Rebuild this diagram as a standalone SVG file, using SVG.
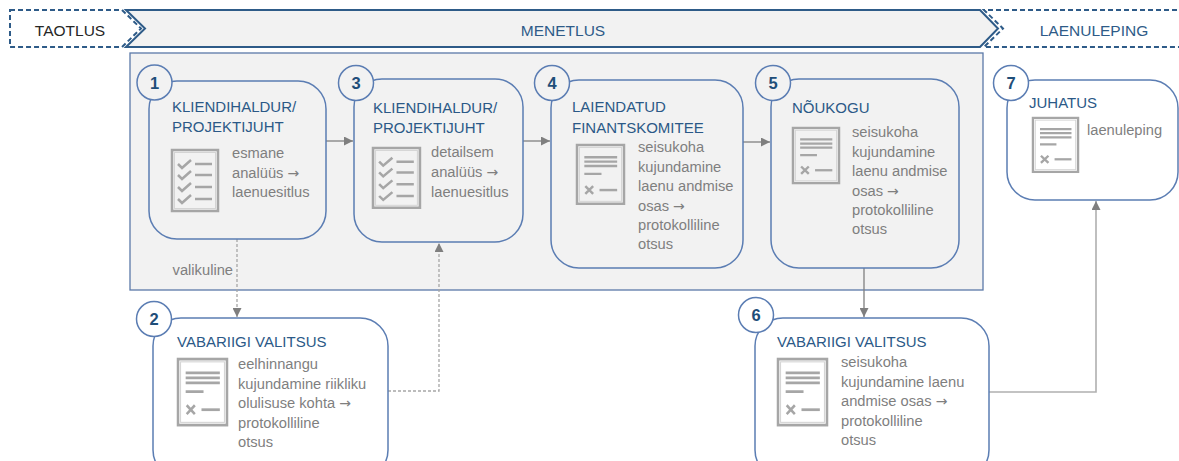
<svg xmlns="http://www.w3.org/2000/svg" xmlns:xlink="http://www.w3.org/1999/xlink" width="1179" height="461" viewBox="0 0 1179 461">
<style>
.hdr{fill:none;stroke:#2e5b88;stroke-width:2}
.dash{stroke-dasharray:5 3}
.htxt{font-family:"Liberation Sans",Arial,sans-serif;font-size:15.5px;text-anchor:middle}
.node{fill:none;stroke:#5b7db3;stroke-width:1.5}
.num{font-family:"Liberation Sans",Arial,sans-serif;font-size:16.5px;font-weight:bold;fill:#1f4e79;text-anchor:middle}
.title{font-family:"Liberation Sans",Arial,sans-serif;font-size:15px;fill:#2b5987}
.body{font-family:"Liberation Sans",Arial,sans-serif;font-size:14.7px;fill:#7f7f7f}
.ar{font-family:"DejaVu Sans",sans-serif;font-size:14px}
.ic{fill:none;stroke:#a6a6a6;stroke-width:2.5}
.icin{fill:none;stroke:#d4d4d4;stroke-width:1}
.conn{fill:none;stroke:#7f7f7f;stroke-width:1.3}
.dot{fill:none;stroke:#a6a6a6;stroke-width:1.3;stroke-dasharray:3 2}
.light{fill:none;stroke:#b0b0b0;stroke-width:1.6}
</style>
<defs>
<marker id="arr" markerUnits="userSpaceOnUse" markerWidth="9" markerHeight="9" refX="9" refY="4.5" orient="auto">
<path d="M0,0 L9,4.5 L0,9 Z" fill="#7f7f7f"/>
</marker>
<g id="doc">
<rect x="1" y="1" width="48" height="60" class="ic"/>
<rect x="3.5" y="3.5" width="43" height="55" class="icin"/>
<path d="M8.5,13.5 H42 M8.5,18 H42 M8.5,22.5 H42 M8.5,30.5 H26" class="ic" stroke-width="2.2"/>
<path d="M9.5,43 L17.5,51 M17.5,43 L9.5,51" class="ic" stroke-width="2.2"/>
<path d="M24,47 H42" class="ic" stroke-width="2.2"/>
</g>
<g id="check">
<rect x="1" y="1" width="46" height="61" class="ic"/>
<rect x="3.5" y="3.5" width="41" height="56" class="icin"/>
<path d="M7,15 L11,19 L20,11 M7,26 L11,30 L20,22 M7,38 L11,42 L20,34 M7,50 L11,54 L20,46" class="ic" stroke-width="2"/>
<path d="M24,15 H41 M24,26 H41 M24,38 H41 M24,50 H41" class="ic" stroke-width="2.2"/>
</g>
</defs>

<g id="header">
<path d="M10,10 H122 L141,28.5 L122,47 H10 Z" class="hdr dash" fill="#ffffff"/>
<path d="M126,10 H980 L998,28.5 L980,47 H126 L145,28.5 Z" class="hdr" style="fill:#f2f2f2"/>
<path d="M1185,10 H984 L1003,28.5 L984,47 H1185" class="hdr dash"/>
<text x="70" y="36" class="htxt" fill="#262626">TAOTLUS</text>
<text x="563" y="36" class="htxt" fill="#2e5b88">MENETLUS</text>
<text x="1094" y="36" class="htxt" fill="#2e5b88">LAENULEPING</text>
</g>

<g id="container">
<rect x="130" y="53" width="853" height="237" fill="#f2f2f2" stroke="#5b79a8" stroke-width="1.3"/>
</g>

<g id="connectors">
<path d="M326,141 H353" class="conn" marker-end="url(#arr)"/>
<path d="M523,141 H550" class="conn" marker-end="url(#arr)"/>
<path d="M743,142 H770" class="conn" marker-end="url(#arr)"/>
<path d="M237,239 V317" class="dot" marker-end="url(#arr)"/>
<path d="M388,391 H439 V243" class="dot" marker-end="url(#arr)"/>
<path d="M864,268 V317" class="conn" marker-end="url(#arr)"/>
<path d="M989,392 H1096 V201" class="light" marker-end="url(#arr)"/>
<text x="233" y="275" class="body" text-anchor="end">valikuline</text>
</g>

<g id="node1">
<rect x="149" y="81" width="177" height="158" rx="28" class="node"/>
<circle cx="154.5" cy="82.5" r="17.5" fill="#f2f2f2" stroke="#5b7db3" stroke-width="1.5"/>
<text x="154.5" y="88.5" class="num">1</text>
<text x="172" y="112" class="title">KLIENDIHALDUR/</text>
<text x="172" y="132" class="title">PROJEKTIJUHT</text>
<use xlink:href="#check" transform="translate(171,149)"/>
<text x="232" y="158" class="body">esmane</text>
<text x="232" y="177.5" class="body">analüüs <tspan class="ar">→</tspan></text>
<text x="232" y="197" class="body">laenuesitlus</text>
</g>

<g id="node3">
<rect x="354" y="79" width="169" height="163" rx="28" class="node"/>
<circle cx="356" cy="83" r="17.5" fill="#f2f2f2" stroke="#5b7db3" stroke-width="1.5"/>
<text x="356" y="89" class="num">3</text>
<text x="373" y="113" class="title">KLIENDIHALDUR/</text>
<text x="373" y="133" class="title">PROJEKTIJUHT</text>
<use xlink:href="#check" transform="translate(372,147) scale(1.02,0.98)"/>
<text x="431" y="157" class="body">detailsem</text>
<text x="431" y="177" class="body">analüüs <tspan class="ar">→</tspan></text>
<text x="431" y="197" class="body">laenuesitlus</text>
</g>

<g id="node4">
<rect x="551" y="80" width="192" height="188" rx="28" class="node"/>
<circle cx="552" cy="83" r="17.5" fill="#f2f2f2" stroke="#5b7db3" stroke-width="1.5"/>
<text x="552" y="89" class="num">4</text>
<text x="572" y="112" class="title">LAIENDATUD</text>
<text x="572" y="133" class="title">FINANTSKOMITEE</text>
<use xlink:href="#doc" transform="translate(576,144) scale(0.98,0.98)"/>
<text x="638" y="152" class="body">seisukoha</text>
<text x="638" y="171.5" class="body">kujundamine</text>
<text x="638" y="191" class="body">laenu andmise</text>
<text x="638" y="210.5" class="body">osas <tspan class="ar">→</tspan></text>
<text x="638" y="230" class="body">protokolliline</text>
<text x="638" y="249" class="body">otsus</text>
</g>

<g id="node5">
<rect x="771" y="79" width="188" height="189" rx="28" class="node"/>
<circle cx="773" cy="83" r="17.5" fill="#f2f2f2" stroke="#5b7db3" stroke-width="1.5"/>
<text x="773" y="89" class="num">5</text>
<text x="792" y="113" class="title">NÕUKOGU</text>
<use xlink:href="#doc" transform="translate(792,127) scale(0.96,0.92)"/>
<text x="852" y="137" class="body">seisukoha</text>
<text x="852" y="156.5" class="body">kujundamine</text>
<text x="852" y="176" class="body">laenu andmise</text>
<text x="852" y="195.5" class="body">osas <tspan class="ar">→</tspan></text>
<text x="852" y="215" class="body">protokolliline</text>
<text x="852" y="234" class="body">otsus</text>
</g>

<g id="node2">
<rect x="153" y="318" width="235" height="160" rx="28" class="node"/>
<circle cx="154" cy="319" r="17.5" fill="#ffffff" stroke="#5b7db3" stroke-width="1.5"/>
<text x="154" y="325" class="num">2</text>
<text x="177" y="347" class="title">VABARIIGI VALITSUS</text>
<use xlink:href="#doc" transform="translate(177,358) scale(1.02,1.1)"/>
<text x="238" y="369" class="body">eelhinnangu</text>
<text x="238" y="388.5" class="body">kujundamine riikliku</text>
<text x="238" y="408" class="body">olulisuse kohta <tspan class="ar">→</tspan></text>
<text x="238" y="427.5" class="body">protokolliline</text>
<text x="238" y="447" class="body">otsus</text>
</g>

<g id="node6">
<rect x="755" y="318" width="234" height="160" rx="28" class="node"/>
<circle cx="756" cy="315" r="17.5" fill="#ffffff" stroke="#5b7db3" stroke-width="1.5"/>
<text x="756" y="321" class="num">6</text>
<text x="777" y="347" class="title">VABARIIGI VALITSUS</text>
<use xlink:href="#doc" transform="translate(777,358) scale(1.02,1.1)"/>
<text x="841" y="367" class="body">seisukoha</text>
<text x="841" y="386.5" class="body">kujundamine laenu</text>
<text x="841" y="406" class="body">andmise osas <tspan class="ar">→</tspan></text>
<text x="841" y="425.5" class="body">protokolliline</text>
<text x="841" y="445" class="body">otsus</text>
</g>

<g id="node7">
<rect x="1007" y="80" width="171" height="120" rx="28" class="node"/>
<circle cx="1011" cy="83" r="17.5" fill="#ffffff" stroke="#5b7db3" stroke-width="1.5"/>
<text x="1011" y="89" class="num">7</text>
<text x="1029" y="108" class="title">JUHATUS</text>
<use xlink:href="#doc" transform="translate(1032,117) scale(0.94,0.9)"/>
<text x="1087" y="135" class="body">laenuleping</text>
</g>
</svg>
